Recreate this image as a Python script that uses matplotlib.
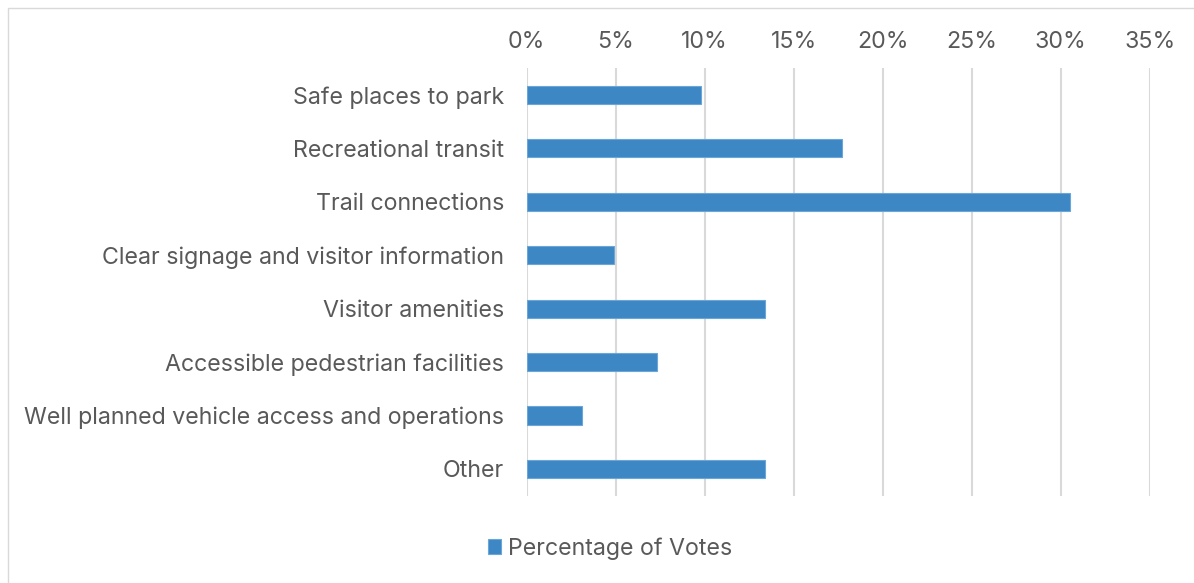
import matplotlib.pyplot as plt
from matplotlib.patches import Rectangle
from matplotlib.ticker import PercentFormatter

categories = [
    "Safe places to park",
    "Recreational transit",
    "Trail connections",
    "Clear signage and visitor information",
    "Visitor amenities",
    "Accessible pedestrian facilities",
    "Well planned vehicle access and operations",
    "Other",
]
votes = [9.8, 17.7, 30.5, 4.9, 13.4, 7.3, 3.1, 13.4]
xticks = [0, 5, 10, 15, 20, 25, 30, 35]

plt.rcParams['font.family'] = ['Inter', 'DejaVu Sans']
text_color = '#595959'

fig = plt.figure(figsize=(11.94, 5.83), dpi=100)
ax = fig.add_axes([0.441, 0.150, 0.522, 0.733])

ax.barh(range(len(categories)), votes, height=0.34, color='#3D87C4',
        edgecolor='#6AA6D8', linewidth=0.8, label='Percentage of Votes', zorder=3)
ax.set_ylim(len(categories) - 0.5, -0.5)
ax.set_xlim(0, 35)
ax.set_yticks(range(len(categories)))
ax.set_yticklabels(categories)
ax.set_xticks(xticks)
ax.xaxis.set_major_formatter(PercentFormatter(decimals=0))
ax.xaxis.tick_top()
ax.tick_params(axis='both', length=0, labelsize=16.7, colors=text_color)
ax.tick_params(axis='y', pad=16)
ax.tick_params(axis='x', pad=11)
ax.grid(axis='x', color='#D9D9D9', linewidth=1.5, zorder=0)
for s in ax.spines.values():
    s.set_visible(False)

leg = fig.legend(loc='center', bbox_to_anchor=(0.511, 0.059), frameon=False,
                 fontsize=16.7, handlelength=0.6, handleheight=0.6, handletextpad=0.3)
for t in leg.get_texts():
    t.set_color(text_color)

fig.patches.append(Rectangle((0.007, -0.01), 1.0, 0.996, transform=fig.transFigure,
                             fill=False, edgecolor='#D9D9D9', linewidth=1))

fig.savefig('out.png', dpi=100)
